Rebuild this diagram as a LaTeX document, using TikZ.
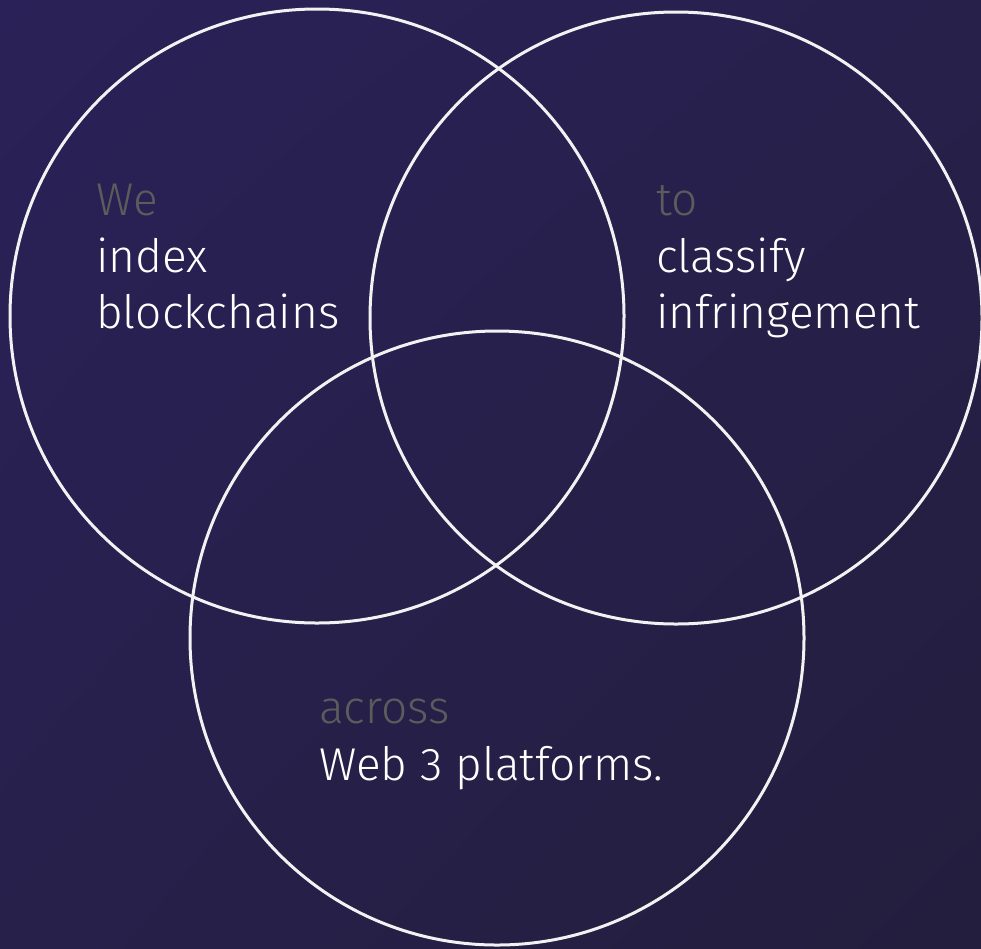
\documentclass[tikz,border=0pt]{standalone}
\usepackage{fontspec}
\setmainfont{Fira Sans Light}
\usetikzlibrary{shadings}
\definecolor{bgtl}{HTML}{2A2158}
\definecolor{bgbr}{HTML}{231E3D}
\definecolor{bgmid}{HTML}{27204B}
\definecolor{ringc}{HTML}{F2F2F2}
\definecolor{softgray}{HTML}{5C5C5C}
\tikzset{
  ring/.style={draw=ringc, line width=3pt},
  word/.style={anchor=base west, inner sep=0pt, text=white, font=\fontsize{46}{52}\selectfont},
  faint/.style={word, text=softgray}
}
\begin{document}
\begin{tikzpicture}[x=1pt,y=-1pt]
        \useasboundingbox (0,0) rectangle (981,948);
        \shade[upper left=bgtl, lower right=bgbr, upper right=bgmid, lower left=bgmid] (0,0) rectangle (981,948);
        % the three rings
        \draw[ring] (317,316) circle (307);
        \draw[ring] (676,318) circle (306);
        \draw[ring] (497,638) circle (307);
        % left ring
        \node[faint] (we) at (96,215) {We};
        \node[word] (index) at (96,272) {index};
        \node[word] (chains) at (96,328) {blockchains};
        % right ring
        \node[faint] (to) at (656,215) {to};
        \node[word] (classify) at (656,272) {classify};
        \node[word] (infringe) at (656,328) {infringement};
        % bottom ring
        \node[faint] (across) at (319,723) {across};
        \node[word] (platforms) at (319,780) {Web 3 platforms.};
\end{tikzpicture}
\end{document}
